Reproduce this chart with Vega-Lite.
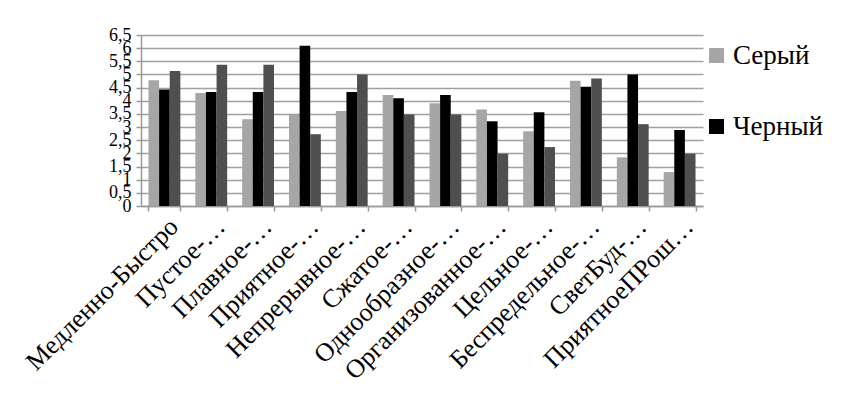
{
  "$schema": "https://vega.github.io/schema/vega-lite/v6.json",
  "width": 562,
  "height": 171,
  "autosize": {"type": "none"},
  "padding": {"left": 141, "top": 35, "right": 138, "bottom": 194},
  "background": "white",
  "config": {
    "locale": {"number": {"decimal": ",", "thousands": " ", "grouping": [3], "currency": ["", ""]}},
    "view": {"stroke": null}
  },
  "data": {
    "values": [
      {"cat": "Медленно-Быстро", "s": "Серый", "v": 4.78},
      {"cat": "Медленно-Быстро", "s": "Черный", "v": 4.43},
      {"cat": "Медленно-Быстро", "s": "Ряд3", "v": 5.13},
      {"cat": "Пустое-…", "s": "Серый", "v": 4.30},
      {"cat": "Пустое-…", "s": "Черный", "v": 4.33},
      {"cat": "Пустое-…", "s": "Ряд3", "v": 5.37},
      {"cat": "Плавное-…", "s": "Серый", "v": 3.30},
      {"cat": "Плавное-…", "s": "Черный", "v": 4.33},
      {"cat": "Плавное-…", "s": "Ряд3", "v": 5.37},
      {"cat": "Приятное-…", "s": "Серый", "v": 3.46},
      {"cat": "Приятное-…", "s": "Черный", "v": 6.09},
      {"cat": "Приятное-…", "s": "Ряд3", "v": 2.73},
      {"cat": "Непрерывное-…", "s": "Серый", "v": 3.61},
      {"cat": "Непрерывное-…", "s": "Черный", "v": 4.33},
      {"cat": "Непрерывное-…", "s": "Ряд3", "v": 5.0},
      {"cat": "Сжатое-…", "s": "Серый", "v": 4.22},
      {"cat": "Сжатое-…", "s": "Черный", "v": 4.10},
      {"cat": "Сжатое-…", "s": "Ряд3", "v": 3.48},
      {"cat": "Однообразное-…", "s": "Серый", "v": 3.91},
      {"cat": "Однообразное-…", "s": "Черный", "v": 4.22},
      {"cat": "Однообразное-…", "s": "Ряд3", "v": 3.48},
      {"cat": "Организованное-…", "s": "Серый", "v": 3.67},
      {"cat": "Организованное-…", "s": "Черный", "v": 3.22},
      {"cat": "Организованное-…", "s": "Ряд3", "v": 1.99},
      {"cat": "Цельное-…", "s": "Серый", "v": 2.84},
      {"cat": "Цельное-…", "s": "Черный", "v": 3.56},
      {"cat": "Цельное-…", "s": "Ряд3", "v": 2.24},
      {"cat": "Беспредельное-…", "s": "Серый", "v": 4.76},
      {"cat": "Беспредельное-…", "s": "Черный", "v": 4.53},
      {"cat": "Беспредельное-…", "s": "Ряд3", "v": 4.85},
      {"cat": "СветБуд-…", "s": "Серый", "v": 1.85},
      {"cat": "СветБуд-…", "s": "Черный", "v": 5.0},
      {"cat": "СветБуд-…", "s": "Ряд3", "v": 3.11},
      {"cat": "ПриятноеПРош…", "s": "Серый", "v": 1.29},
      {"cat": "ПриятноеПРош…", "s": "Черный", "v": 2.89},
      {"cat": "ПриятноеПРош…", "s": "Ряд3", "v": 1.99}
    ]
  },
  "mark": {"type": "bar"},
  "encoding": {
    "x": {
      "field": "cat", "type": "nominal", "sort": null,
      "scale": {"paddingInner": 0.32, "paddingOuter": 0.16},
      "axis": {
        "title": null, "labelAngle": -45, "labelFontSize": 26, "labelColor": "black",
        "labelFont": "Liberation Serif", "tickBand": "extent", "domainColor": "#999999",
        "domainWidth": 1.5, "tickColor": "#999999", "tickWidth": 1.5, "tickSize": 5,
        "labelPadding": 2, "labelLimit": 0, "grid": false
      }
    },
    "xOffset": {"field": "s", "type": "nominal", "sort": ["Серый", "Черный", "Ряд3"], "scale": {"paddingInner": 0, "paddingOuter": 0}},
    "y": {
      "field": "v", "type": "quantitative",
      "scale": {"domain": [0, 6.5], "nice": false},
      "axis": {
        "title": null, "values": [0, 0.5, 1, 1.5, 2, 2.5, 3, 3.5, 4, 4.5, 5, 5.5, 6, 6.5],
        "format": "~g", "labelFontSize": 18, "labelColor": "black", "labelFont": "Liberation Serif",
        "gridColor": "#a0a0a0", "gridWidth": 1.5, "domainColor": "#999999", "domainWidth": 1.5,
        "tickColor": "#999999", "tickWidth": 1.5, "tickSize": 5, "labelPadding": 5,
        "labelOverlap": false, "labelBound": false, "labelFlush": false
      }
    },
    "color": {
      "field": "s", "type": "nominal",
      "scale": {"domain": ["Серый", "Черный", "Ряд3"], "range": ["#a6a6a6", "#000000", "#4f4f4f"]},
      "legend": {
        "title": null, "values": ["Серый", "Черный"], "orient": "none", "legendX": 562, "legendY": 7,
        "symbolType": "square", "symbolSize": 225, "symbolStrokeWidth": 0, "labelFontSize": 27,
        "labelFont": "Liberation Serif", "labelColor": "black", "rowPadding": 43, "labelOffset": 3
      }
    }
  }
}
